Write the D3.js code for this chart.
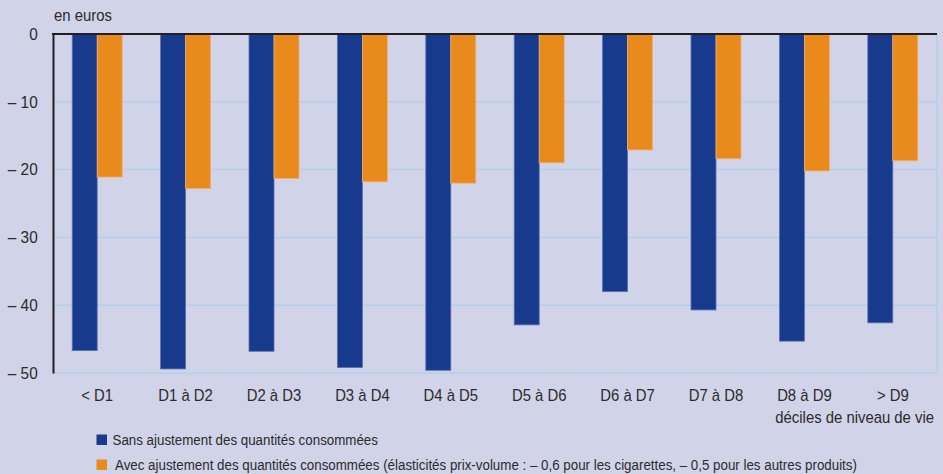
<!DOCTYPE html>
<html>
<head>
<meta charset="utf-8">
<script src="https://cdn.jsdelivr.net/npm/d3@7"></script>
<style>
  html, body { margin: 0; padding: 0; background: #d1d3e8; }
  svg { display: block; }
  text { font-family: "Liberation Sans", Arial, sans-serif; font-weight: normal; }
</style>
</head>
<body>
<svg id="chart" width="943" height="474"></svg>
<script>
// Déciles de niveau de vie
const categories = ["< D1", "D1 à D2", "D2 à D3", "D3 à D4", "D4 à D5", "D5 à D6", "D6 à D7", "D7 à D8", "D8 à D9", "> D9"];
// Variation en euros, sans ajustement des quantités consommées
const sansAjustement = [-46.7, -49.4, -46.8, -49.2, -49.6, -42.9, -38.0, -40.7, -45.3, -42.6];
// Variation en euros, avec ajustement des quantités consommées
const avecAjustement = [-21.1, -22.8, -21.3, -21.8, -22.0, -19.0, -17.1, -18.4, -20.2, -18.7];
const yTicks = [0, -10, -20, -30, -40, -50];
const seriesNames = [
  "Sans ajustement des quantités consommées",
  "Avec ajustement des quantités consommées (élasticités prix-volume : – 0,6 pour les cigarettes, – 0,5 pour les autres produits)"
];
const colors = ["#173a8c", "#e98a1d"];
const strokes = ["#5a72b0", "#f2b070"];
const textColor = "#2b2b2b";
const squeeze = 0.93;       // horizontal condensing of the typeface
const legendSqueeze = 0.89; // legend is set a little tighter

const svg = d3.select("#chart");
const margin = { left: 53, right: 6, top: 34, bottom: 101 };
const W = 943, H = 474;

const x = d3.scaleBand().domain(categories).range([margin.left, W - margin.right]).padding(0);
const y = d3.scaleLinear().domain([0, -50]).range([margin.top, H - margin.bottom]);

// Condensed text placed at (tx, ty)
function label(parent, tx, ty, str, size, anchor, sx) {
  return parent.append("text")
    .attr("transform", `translate(${tx},${ty}) scale(${sx || squeeze},1)`)
    .attr("text-anchor", anchor || "start")
    .style("font-size", size + "px")
    .attr("fill", textColor)
    .text(str);
}

// Horizontal gridlines
svg.append("g").selectAll("line").data(yTicks.filter(d => d !== 0)).join("line")
  .attr("x1", margin.left).attr("x2", W - margin.right)
  .attr("y1", d => y(d)).attr("y2", d => y(d))
  .attr("stroke", "#b2d0ee").attr("stroke-width", 1.5);

// Right frame line
svg.append("line")
  .attr("x1", W - margin.right).attr("x2", W - margin.right)
  .attr("y1", y(0)).attr("y2", y(-50))
  .attr("stroke", "#b2d0ee").attr("stroke-width", 1.5);

// Bars
const barW = 25;
const series = [sansAjustement, avecAjustement];
series.forEach((vals, si) => {
  svg.append("g").selectAll("rect").data(vals).join("rect")
    .attr("x", (d, i) => x(categories[i]) + x.bandwidth() / 2 - barW + si * barW)
    .attr("y", y(0))
    .attr("width", barW)
    .attr("height", d => y(d) - y(0))
    .attr("fill", colors[si])
    .attr("stroke", strokes[si])
    .attr("stroke-width", 0.8);
});

// Y axis
const yAxis = d3.axisLeft(y).tickValues(yTicks).tickSize(0).tickPadding(16.5)
  .tickFormat(d => d === 0 ? "0" : "– " + Math.abs(d));
const gy = svg.append("g").attr("transform", `translate(${margin.left},0)`).call(yAxis);
gy.select(".domain").attr("stroke", "#231f20").attr("stroke-width", 2);
gy.selectAll("text")
  .style("font-size", "16.5px").style("font-family", "Liberation Sans, Arial, sans-serif")
  .attr("fill", textColor).attr("transform", `scale(${squeeze},1)`);

// Zero line
svg.append("line")
  .attr("x1", margin.left - 1).attr("x2", W - margin.right)
  .attr("y1", y(0)).attr("y2", y(0))
  .attr("stroke", "#231f20").attr("stroke-width", 2);

// X axis labels
const xAxis = d3.axisBottom(x).tickSize(0).tickPadding(17);
const gx = svg.append("g").attr("transform", `translate(0,${y(-50)})`).call(xAxis);
gx.select(".domain").remove();
gx.selectAll("text")
  .style("font-size", "16px").style("font-family", "Liberation Sans, Arial, sans-serif")
  .attr("fill", textColor).attr("transform", `scale(${squeeze},1)`);

// Unit label
label(svg, 54, 21, "en euros", 16);

// X axis title
label(svg, 934, 423, "déciles de niveau de vie", 16, "end");

// Legend
const legend = svg.append("g");
const legY = [434.5, 459.5];
seriesNames.forEach((name, i) => {
  legend.append("rect").attr("x", 96.5).attr("y", legY[i]).attr("width", 10.5).attr("height", 10.5)
    .attr("fill", colors[i]);
  label(legend, i === 0 ? 112.5 : 115, legY[i] + 10.5, name, 15, "start", legendSqueeze);
});
</script>
</body>
</html>
